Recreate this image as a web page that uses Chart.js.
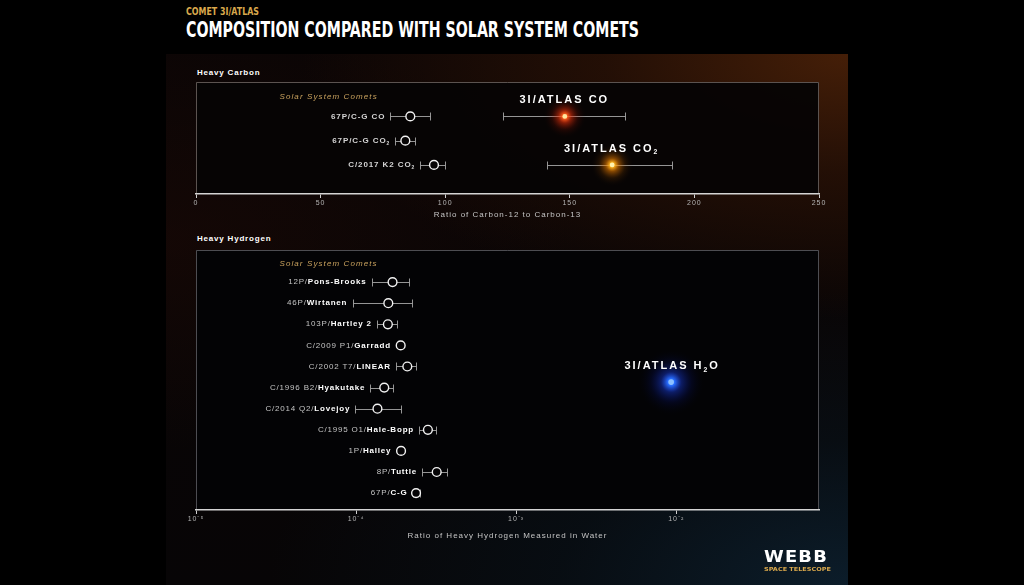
<!DOCTYPE html>
<html>
<head>
<meta charset="utf-8">
<script src="https://cdn.jsdelivr.net/npm/chart.js@4.4.1/dist/chart.umd.min.js"></script>
<style>
html,body{margin:0;padding:0;background:#000;width:1024px;height:585px;overflow:hidden;position:relative;font-family:'Liberation Sans',Arial,sans-serif}
#panel{position:absolute;left:166px;top:54px;width:682px;height:531px;
background:
radial-gradient(ellipse 80% 50% at 100% 0%, rgba(72,32,8,0.95) 0%, rgba(48,20,6,0.65) 45%, rgba(0,0,0,0) 100%),
radial-gradient(ellipse 85% 55% at 100% 100%, rgba(12,30,44,0.95) 0%, rgba(8,18,26,0.6) 50%, rgba(0,0,0,0) 100%),
radial-gradient(ellipse 60% 40% at 0% 35%, rgba(30,10,6,0.5) 0%, rgba(0,0,0,0) 100%),
linear-gradient(#0b0505,#070506);}
.abs{position:absolute;white-space:nowrap;transform-origin:0 0}
#kicker{left:186px;top:5px;font-family:'Liberation Sans Narrow','DejaVu Sans Condensed',sans-serif;font-size:11px;line-height:13px;color:#d9a84c;font-weight:bold}
#headline{left:186px;top:17px;font-family:'Liberation Sans Narrow','DejaVu Sans Condensed',sans-serif;font-size:22px;line-height:26px;color:#fff;font-weight:bold}
.ptitle{left:197px;font-size:8px;font-weight:bold;color:#fff;letter-spacing:0.8px;line-height:10px}
#webb{left:764px;top:549px;font-family:'DejaVu Sans',sans-serif;font-size:15px;line-height:17px;font-weight:bold;color:#fff;letter-spacing:1px}
#tele{left:764px;top:566px;font-family:'DejaVu Sans',sans-serif;font-size:5.5px;line-height:7px;font-weight:bold;color:#d9a84c}
canvas{position:absolute}
</style>
</head>
<body>
<div id="panel"></div>
<div id="kicker" class="abs">COMET 3I/ATLAS</div>
<div id="headline" class="abs">COMPOSITION COMPARED WITH SOLAR SYSTEM COMETS</div>
<div class="abs ptitle" style="top:68px">Heavy Carbon</div>
<div class="abs ptitle" style="top:234px">Heavy Hydrogen</div>
<canvas id="c1" width="682" height="170" style="left:166px;top:60px"></canvas>
<canvas id="c2" width="682" height="310" style="left:166px;top:244px"></canvas>
<div id="webb" class="abs">WEBB</div>
<div id="tele" class="abs">SPACE TELESCOPE</div>
<script>
// ---------------- DATA ----------------
const carbonComets = ['67P/C-G CO', '67P/C-G CO₂', 'C/2017 K2 CO₂'];
const carbonValues = [86, 84, 95.5];
const carbonLow = [78, 80, 90];
const carbonHigh = [94, 88, 100];
const carbonRows = [1, 2, 3];

const atlasCarbonLabels = ['3I/ATLAS CO', '3I/ATLAS CO₂'];
const atlasCarbonValues = [148, 167];
const atlasCarbonLow = [123, 141];
const atlasCarbonHigh = [172, 191];
const atlasCarbonRows = [1, 3];

const carbonTicks = [0, 50, 100, 150, 200, 250];
const carbonAxisTitle = 'Ratio of Carbon-12 to Carbon-13';

const hydrogenPrefixes = ['12P/', '46P/', '103P/', 'C/2009 P1/', 'C/2002 T7/', 'C/1996 B2/', 'C/2014 Q2/', 'C/1995 O1/', '1P/', '8P/', '67P/'];
const hydrogenNames = ['Pons-Brooks', 'Wirtanen', 'Hartley 2', 'Garradd', 'LINEAR', 'Hyakutake', 'Lovejoy', 'Hale-Bopp', 'Halley', 'Tuttle', 'C-G'];
const hydrogenValues = [1.69e-4, 1.59e-4, 1.58e-4, 1.90e-4, 2.09e-4, 1.50e-4, 1.36e-4, 2.81e-4, 1.91e-4, 3.19e-4, 2.37e-4];
const hydrogenLow = [1.25e-4, 0.95e-4, 1.35e-4, null, 1.78e-4, 1.23e-4, 0.99e-4, 2.48e-4, null, 2.59e-4, 2.26e-4];
const hydrogenHigh = [2.14e-4, 2.23e-4, 1.81e-4, null, 2.36e-4, 1.69e-4, 1.90e-4, 3.15e-4, null, 3.72e-4, 2.51e-4];
const hydrogenRows = [1, 2, 3, 4, 5, 6, 7, 8, 9, 10, 11];

const atlasH2OLabels = ['3I/ATLAS H₂O'];
const atlasH2OValues = [9.3e-3];
const atlasH2ORows = [5.74];

const hydrogenTicks = [1e-5, 1e-4, 1e-3, 1e-2];
const hydrogenAxisTitle = 'Ratio of Heavy Hydrogen Measured in Water';
const groupLabel = 'Solar System Comets';
const carbonGroupX = 53, carbonGroupRow = 0.2;
const hydrogenGroupX = 6.68e-5, hydrogenGroupRow = 0.11;

// ---------------- HELPERS ----------------
const FONT = "'Liberation Sans', Arial, sans-serif";
function setFont(ctx, size, weight, style) {
  ctx.font = `${style || 'normal'} ${weight || 'normal'} ${size}px ${FONT}`;
}
function richSegments(text, size, weight, color, style) {
  const out = [];
  const parts = text.split('₂');
  parts.forEach((p, i) => {
    if (p) out.push({text: p, size, weight, color, style, dy: 0});
    if (i < parts.length - 1) out.push({text: '2', size: size * 0.62, weight, color, style, dy: size * 0.32});
  });
  return out;
}
function drawRich(ctx, segs, x, y, align, spacing) {
  ctx.save();
  ctx.letterSpacing = spacing + 'px';
  ctx.textBaseline = 'middle';
  ctx.textAlign = 'left';
  let total = 0;
  const widths = segs.map(s => { setFont(ctx, s.size, s.weight, s.style); const w = ctx.measureText(s.text).width; total += w; return w; });
  total -= spacing;
  let cx = align === 'right' ? x - total : (align === 'center' ? x - total / 2 : x);
  segs.forEach((s, i) => {
    setFont(ctx, s.size, s.weight, s.style);
    ctx.fillStyle = s.color;
    ctx.fillText(s.text, cx, y + s.dy);
    cx += widths[i];
  });
  ctx.restore();
}
const SUP = {'-': '⁻', '0': '⁰', '1': '¹', '2': '²', '3': '³', '4': '⁴', '5': '⁵', '6': '⁶', '7': '⁷', '8': '⁸', '9': '⁹'};
function powLabel(v) {
  const e = Math.round(Math.log10(v));
  return '10' + String(e).split('').map(c => SUP[c]).join('');
}

// plot box + global letter spacing
const boxPlugin = {
  id: 'box',
  beforeDraw(chart, args, opts) {
    const {ctx, chartArea: a} = chart;
    ctx.save();
    ctx.fillStyle = opts.fill;
    ctx.fillRect(a.left, a.top, a.right - a.left, a.bottom - a.top);
    ctx.strokeStyle = opts.stroke;
    ctx.lineWidth = 1;
    ctx.beginPath();
    ctx.moveTo(a.left + 0.5, a.bottom);
    ctx.lineTo(a.left + 0.5, a.top + 0.5);
    ctx.lineTo(a.right - 0.5, a.top + 0.5);
    ctx.lineTo(a.right - 0.5, a.bottom);
    ctx.stroke();
    ctx.restore();
    ctx.letterSpacing = '1px';
  }
};

// error bars + glows
const errorBarPlugin = {
  id: 'errorBars',
  beforeDatasetsDraw(chart) {
    const {ctx, scales: {x}} = chart;
    ctx.save();
    ctx.strokeStyle = 'rgba(165,165,165,0.9)';
    ctx.lineWidth = 1;
    chart.data.datasets.forEach((ds, di) => {
      const meta = chart.getDatasetMeta(di);
      meta.data.forEach((el, i) => {
        const d = ds.data[i];
        if (d.lo == null || d.hi == null) return;
        const x1 = Math.round(x.getPixelForValue(d.lo)) + 0.5;
        const x2 = Math.round(x.getPixelForValue(d.hi)) + 0.5;
        const y = Math.round(el.y) + 0.5;
        ctx.beginPath();
        ctx.moveTo(x1, y); ctx.lineTo(x2, y);
        ctx.moveTo(x1, y - 4); ctx.lineTo(x1, y + 4);
        ctx.moveTo(x2, y - 4); ctx.lineTo(x2, y + 4);
        ctx.stroke();
      });
    });
    chart.data.datasets.forEach((ds, di) => {
      if (!ds.glow) return;
      const meta = chart.getDatasetMeta(di);
      meta.data.forEach((el, i) => {
        const g = ds.glow[i];
        const r = g.r;
        const grad = ctx.createRadialGradient(el.x, el.y, 0, el.x, el.y, r);
        grad.addColorStop(0, g.core);
        grad.addColorStop(0.1, g.inner);
        grad.addColorStop(0.3, g.mid);
        grad.addColorStop(0.6, g.outer);
        grad.addColorStop(1, 'rgba(0,0,0,0)');
        ctx.fillStyle = grad;
        ctx.beginPath();
        ctx.arc(el.x, el.y, r, 0, Math.PI * 2);
        ctx.fill();
      });
    });
    ctx.restore();
  }
};

const commonScaleText = {color: '#b4b4b4', font: {size: 7, family: FONT}};

// ---------------- CHART 1: HEAVY CARBON ----------------
const carbonLabelPlugin = {
  id: 'carbonLabels',
  afterDatasetsDraw(chart) {
    const {ctx, scales: {x, y}} = chart;
    const m0 = chart.getDatasetMeta(0);
    carbonComets.forEach((name, i) => {
      const el = m0.data[i];
      const anchor = carbonLow[i] != null ? x.getPixelForValue(carbonLow[i]) : el.x - 4.5;
      drawRich(ctx, richSegments(name, 8, 'bold', '#d4d4d4'), anchor - 6, el.y, 'right', 0.9);
    });
    const m1 = chart.getDatasetMeta(1);
    atlasCarbonLabels.forEach((name, i) => {
      const el = m1.data[i];
      drawRich(ctx, richSegments(name, 11, 'bold', '#ffffff'), el.x - 1.5, el.y - 16, 'center', 2);
    });
    drawRich(ctx, richSegments(groupLabel, 8, 'normal', '#c9a25e', 'italic'),
      x.getPixelForValue(carbonGroupX), y.getPixelForValue(carbonGroupRow), 'center', 1.1);
  }
};

new Chart(document.getElementById('c1'), {
  type: 'scatter',
  data: {
    datasets: [
      {
        data: carbonValues.map((v, i) => ({x: v, y: carbonRows[i], lo: carbonLow[i], hi: carbonHigh[i]})),
        pointRadius: 4.4, pointBorderWidth: 1.4, borderColor: '#f2f2f2', backgroundColor: '#070505'
      },
      {
        data: atlasCarbonValues.map((v, i) => ({x: v, y: atlasCarbonRows[i], lo: atlasCarbonLow[i], hi: atlasCarbonHigh[i]})),
        pointRadius: 2.4, pointBorderWidth: 0, borderColor: 'rgba(0,0,0,0)',
        backgroundColor: ['#ffe6a0', '#fff2b0'],
        glow: [
          {r: 22, core: 'rgba(255,235,170,1)', inner: 'rgba(255,95,30,1)', mid: 'rgba(235,50,12,0.55)', outer: 'rgba(160,25,5,0.18)'},
          {r: 22, core: 'rgba(255,245,180,1)', inner: 'rgba(255,180,30,1)', mid: 'rgba(235,125,0,0.55)', outer: 'rgba(160,80,0,0.18)'}
        ]
      }
    ]
  },
  options: {
    responsive: false, animation: false, devicePixelRatio: 1,
    layout: {padding: {left: 30, right: 29, top: 22, bottom: 8}},
    plugins: {legend: {display: false}, tooltip: {enabled: false}, box: {fill: 'rgba(6,4,4,0.96)', stroke: 'rgba(120,110,105,0.75)'}},
    scales: {
      x: {
        type: 'linear', min: 0, max: 250,
        afterBuildTicks: s => { s.ticks = carbonTicks.map(v => ({value: v})); },
        afterFit: s => { s.height = 28; },
        ticks: {...commonScaleText, padding: 1, maxRotation: 0, autoSkip: false},
        grid: {drawOnChartArea: false, drawTicks: true, tickLength: 4, color: '#cfcfcf', lineWidth: 1},
        border: {display: true, color: '#d4d4d4', width: 1.5},
        title: {display: true, text: carbonAxisTitle, color: '#c4c4c4', font: {size: 8, family: FONT}, padding: {top: 0, bottom: 2}}
      },
      y: {type: 'linear', min: -0.42, max: 4.2, reverse: true, display: false}
    }
  },
  plugins: [boxPlugin, errorBarPlugin, carbonLabelPlugin]
});

// ---------------- CHART 2: HEAVY HYDROGEN ----------------
const hydrogenLabelPlugin = {
  id: 'hydrogenLabels',
  afterDatasetsDraw(chart) {
    const {ctx, scales: {x, y}} = chart;
    const m0 = chart.getDatasetMeta(0);
    hydrogenNames.forEach((name, i) => {
      const el = m0.data[i];
      const anchor = hydrogenLow[i] != null ? x.getPixelForValue(hydrogenLow[i]) : el.x - 4.5;
      const segs = [
        {text: hydrogenPrefixes[i], size: 8, weight: 'normal', color: '#c4c4c4', dy: 0},
        {text: name, size: 8, weight: 'bold', color: '#ffffff', dy: 0}
      ];
      drawRich(ctx, segs, anchor - 6, el.y, 'right', 0.8);
    });
    const m1 = chart.getDatasetMeta(1);
    atlasH2OLabels.forEach((name, i) => {
      const el = m1.data[i];
      drawRich(ctx, richSegments(name, 11, 'bold', '#ffffff'), el.x, el.y - 16, 'center', 2);
    });
    drawRich(ctx, richSegments(groupLabel, 8, 'normal', '#c9a25e', 'italic'),
      x.getPixelForValue(hydrogenGroupX), y.getPixelForValue(hydrogenGroupRow), 'center', 1.1);
  }
};

new Chart(document.getElementById('c2'), {
  type: 'scatter',
  data: {
    datasets: [
      {
        data: hydrogenValues.map((v, i) => ({x: v, y: hydrogenRows[i], lo: hydrogenLow[i], hi: hydrogenHigh[i]})),
        pointRadius: 4.4, pointBorderWidth: 1.4, borderColor: '#f2f2f2', backgroundColor: '#050406'
      },
      {
        data: atlasH2OValues.map((v, i) => ({x: v, y: atlasH2ORows[i]})),
        pointRadius: 2.8, pointBorderWidth: 0, borderColor: 'rgba(0,0,0,0)',
        backgroundColor: '#8cc0ff',
        glow: [
          {r: 34, core: 'rgba(160,205,255,1)', inner: 'rgba(40,110,255,1)', mid: 'rgba(25,60,220,0.45)', outer: 'rgba(10,25,140,0.18)'}
        ]
      }
    ]
  },
  options: {
    responsive: false, animation: false, devicePixelRatio: 1,
    layout: {padding: {left: 30, right: 29, top: 6, bottom: 11}},
    plugins: {legend: {display: false}, tooltip: {enabled: false}, box: {fill: 'rgba(3,3,5,0.97)', stroke: 'rgba(110,110,115,0.7)'}},
    scales: {
      x: {
        type: 'logarithmic', min: 1e-5, max: 0.078,
        afterBuildTicks: s => { s.ticks = hydrogenTicks.map(v => ({value: v})); },
        afterFit: s => { s.height = 33; },
        ticks: {color: '#b4b4b4', font: {size: 7, family: FONT}, padding: 1, maxRotation: 0, autoSkip: false, callback: v => powLabel(v)},
        grid: {drawOnChartArea: false, drawTicks: true, tickLength: 4, color: '#cfcfcf', lineWidth: 1},
        border: {display: true, color: '#d4d4d4', width: 1.5},
        title: {display: true, text: hydrogenAxisTitle, color: '#c4c4c4', font: {size: 8, family: FONT}, padding: {top: 0, bottom: 2}}
      },
      y: {type: 'linear', min: -0.52, max: 11.8, reverse: true, display: false}
    }
  },
  plugins: [boxPlugin, errorBarPlugin, hydrogenLabelPlugin]
});

// fit condensed titles / logo to the reference widths
function fitWidth(id, w) {
  const el = document.getElementById(id);
  el.style.transform = 'none';
  const cur = el.getBoundingClientRect().width;
  el.style.transform = `scaleX(${w / cur})`;
}
fitWidth('kicker', 73);
fitWidth('headline', 453);
fitWidth('webb', 64);
fitWidth('tele', 67);
</script>
</body>
</html>
